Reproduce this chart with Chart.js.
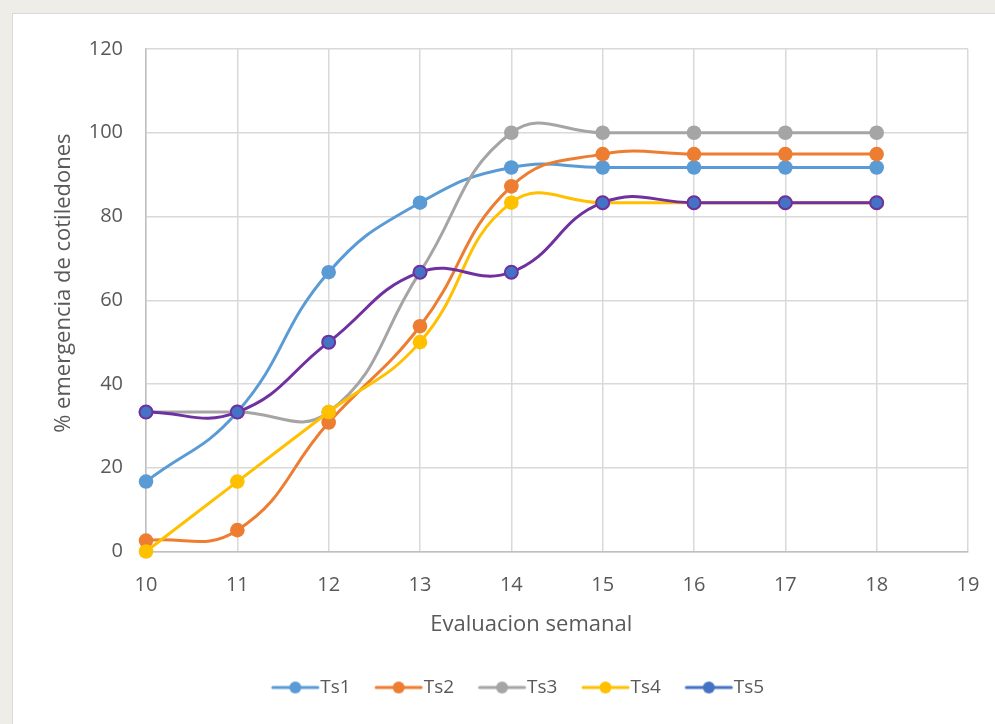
<!DOCTYPE html>
<html>
<head>
<meta charset="utf-8">
<script src="https://cdn.jsdelivr.net/npm/chart.js@4/dist/chart.umd.min.js"></script>
<style>
  html, body { margin: 0; padding: 0; width: 995px; height: 724px; overflow: hidden; background: #eeede7; }
  #box { position: absolute; left: 12px; top: 13px; width: 1060px; height: 720px; background: #ffffff; border: 1px solid #d9d9d9; box-sizing: border-box; }
  #c { position: absolute; left: 0; top: 0; }
</style>
</head>
<body>
<div id="box"><canvas id="c" width="1060" height="711"></canvas></div>
<script>
const weeks = [10, 11, 12, 13, 14, 15, 16, 17, 18];
const seriesNames = ['Ts1', 'Ts2', 'Ts3', 'Ts4', 'Ts5'];
const ts1 = [16.7, 33.3, 66.7, 83.3, 91.7, 91.7, 91.7, 91.7, 91.7];
const ts2 = [2.6, 5.1, 30.8, 53.8, 87.2, 94.9, 94.9, 94.9, 94.9];
const ts3 = [33.3, 33.3, 33.3, 66.7, 100, 100, 100, 100, 100];
const ts4 = [0, 16.7, 33.3, 50, 83.3, 83.3, 83.3, 83.3, 83.3];
const ts5 = [33.3, 33.3, 50, 66.7, 66.7, 83.3, 83.3, 83.3, 83.3];
const yTicks = [0, 20, 40, 60, 80, 100, 120];
const xTicks = [10, 11, 12, 13, 14, 15, 16, 17, 18, 19];
const xTitle = 'Evaluacion semanal';
const yTitle = '% emergencia de cotiledones';

const lineColors = ['#5B9BD5', '#ED7D31', '#A5A5A5', '#FFC000', '#7030A0'];
const markerColors = ['#5B9BD5', '#ED7D31', '#A5A5A5', '#FFC000', '#4472C4'];
const legendLineColors = ['#5B9BD5', '#ED7D31', '#A5A5A5', '#FFC000', '#4472C4'];
const allValues = [ts1, ts2, ts3, ts4, ts5];

function legendIcon(color) {
  const cv = document.createElement('canvas');
  cv.width = 60; cv.height = 14;
  const g = cv.getContext('2d');
  g.strokeStyle = color; g.lineWidth = 3; g.lineCap = 'round';
  g.beginPath(); g.moveTo(12, 7); g.lineTo(57, 7); g.stroke();
  g.fillStyle = color;
  g.beginPath(); g.arc(34.5, 7, 6, 0, Math.PI * 2); g.fill();
  return cv;
}
const icons = legendLineColors.map(legendIcon);

const datasets = seriesNames.map((name, i) => ({
  label: name,
  data: weeks.map((w, j) => ({ x: w, y: allValues[i][j] })),
  borderColor: lineColors[i],
  backgroundColor: markerColors[i],
  pointBackgroundColor: markerColors[i],
  pointBorderColor: i === 4 ? '#7030A0' : markerColors[i],
  pointBorderWidth: i === 4 ? 2 : 0,
  pointRadius: i === 4 ? 6.5 : 7.3,
  borderWidth: 3,
  tension: 0.45,
  fill: false,
  clip: false,
  order: 4 - i
}));

const font = "'Open Sans', 'Noto Sans', sans-serif";

new Chart(document.getElementById('c'), {
  type: 'line',
  data: { datasets },
  options: {
    responsive: false,
    animation: false,
    layout: { autoPadding: false, padding: { left: 54, right: 105, top: 31, bottom: 18 } },
    plugins: {
      tooltip: { enabled: false },
      legend: {
        position: 'bottom',
        labels: {
          usePointStyle: true,
          pointStyleWidth: 40,
          padding: 23.5,
          color: '#595959',
          font: { family: font, size: 19 },
          generateLabels: () => seriesNames.map((n, i) => ({
            text: n,
            pointStyle: icons[i],
            fillStyle: legendLineColors[i],
            strokeStyle: legendLineColors[i],
            lineWidth: 0,
            fontColor: '#595959',
            hidden: false,
            datasetIndex: i
          }))
        }
      }
    },
    scales: {
      x: {
        type: 'linear',
        min: 10, max: 19,
        afterBuildTicks: (s) => { s.ticks = xTicks.map(v => ({ value: v })); },
        afterFit: (s) => { s.height = 103; },
        ticks: { color: '#595959', font: { family: font, size: 20 }, padding: 22, maxRotation: 0 },
        grid: { color: '#d9d9d9', lineWidth: 1.5, drawTicks: false },
        border: { color: '#bfbfbf', width: 1.5 },
        title: { display: true, text: xTitle + '         ', color: '#595959', font: { family: font, size: 22 }, padding: { top: 0, bottom: 17 } }
      },
      y: {
        min: 0, max: 120,
        afterBuildTicks: (s) => { s.ticks = yTicks.map(v => ({ value: v })); },
        afterFit: (s) => { s.width = 79; },
        ticks: { color: '#595959', font: { family: font, size: 20 }, padding: 23 },
        grid: { color: '#d9d9d9', lineWidth: 1.5, drawTicks: false },
        border: { color: '#bfbfbf', width: 1.5 },
        title: { display: true, text: '      ' + yTitle, color: '#595959', font: { family: font, size: 22 }, padding: { top: -16, bottom: 0 } }
      }
    }
  }
});
</script>
</body>
</html>
